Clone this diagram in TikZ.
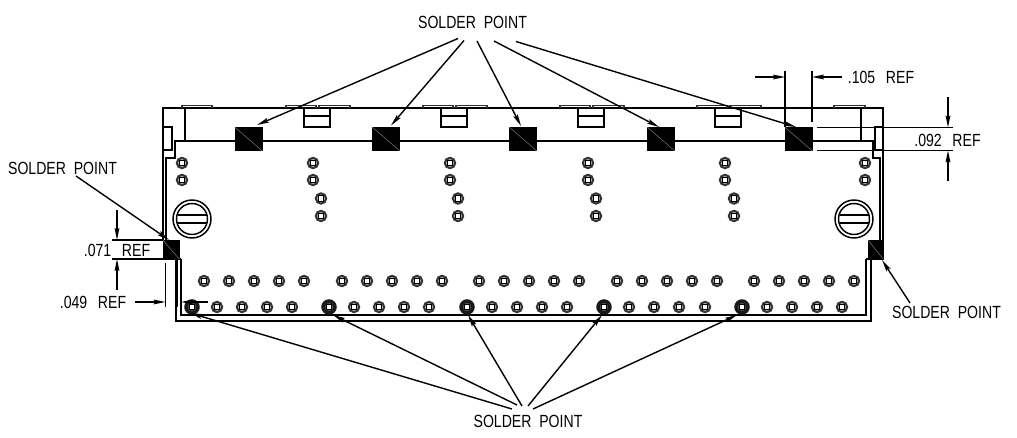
\documentclass[tikz,border=0pt]{standalone}
\usepackage{fontspec}
\setmainfont[FakeStretch=0.8]{Liberation Sans}
\usetikzlibrary{arrows.meta}
\tikzset{
	wall/.style={line width=1.1pt},
	tabline/.style={line width=0.9pt,black!80},
	dimline/.style={line width=0.95pt},
	leader/.style={line width=1.05pt,-{Stealth[length=9pt,width=3.6pt,inset=1.5pt]}},
	padbox/.style={draw=black,fill=black,inner sep=0pt,line width=0.4pt},
	callout/.style={font=\fontsize{13.2}{15}\selectfont,inner sep=0pt},
}
\newcommand{\solderlabel}{SOLDER\ \ POINT}
\newcommand{\viahole}[2]{%
	\draw[line width=1.5pt,black!80,fill=black!30] (#1,#2) circle (5.2);
	\draw[line width=1pt,fill=white] (#1-2.8,#2-2.8) rectangle (#1+2.8,#2+2.8);
}
\newcommand{\bigviahole}[2]{%
	\draw[line width=2.6pt,black!90,fill=black!70] (#1,#2) circle (6);
	\draw[line width=1pt,fill=white] (#1-2.4,#2-2.4) rectangle (#1+2.4,#2+2.4);
}
\newcommand{\slotscrew}[2]{%
	\draw[wall] (#1,#2) circle (19);
	\draw[wall] (#1,#2) circle (15.5);
	\draw[wall] (#1-14.5,#2-4) -- (#1+14.5,#2-4);
	\draw[wall] (#1-14.5,#2+4) -- (#1+14.5,#2+4);
}
\begin{document}
\begin{tikzpicture}[x=0.75pt,y=-0.75pt]
	\useasboundingbox (0,0) rectangle (1017,438);
	
	\draw[wall] (163,240)--(163,108)--(883,108)--(883,240);
	\draw[wall] (166,240)--(166,158)--(175,158)--(175,141)--(873,141)--(873,158)--(880,158)--(880,240);
	\draw[wall] (163,127) rectangle (172,150);
	\draw[wall] (875,127) rectangle (883,150);
	\draw[wall] (185,108)--(185,141);
	\draw[wall] (861,108)--(861,141);
	\draw[tabline] (182,108)--(182,105.5)--(212,105.5)--(212,108);
	\draw[tabline] (834,108)--(834,105.5)--(865,105.5)--(865,108);
	
	\foreach \tabx in {286,423,560,697}{
		\draw[tabline] (\tabx,108)--(\tabx,105.5)--(\tabx+30,105.5)--(\tabx+30,108);
		\draw[tabline] (\tabx+33,108)--(\tabx+33,105.5)--(\tabx+64,105.5)--(\tabx+64,108);
		\draw[wall] (\tabx+18,108)--(\tabx+18,127)--(\tabx+44,127)--(\tabx+44,108);
		\draw[wall] (\tabx+18,116)--(\tabx+44,116);
	}
	
	\draw[wall] (176,259)--(176,321)--(871,321)--(871,259);
	\draw[wall] (181,259)--(181,315)--(866,315)--(866,259);
	\draw[wall] (176,259)--(181,259);
	\draw[wall] (866,259)--(871,259);
	\draw[line width=2pt] (177,259)--(177,307);
	
	\foreach \padname/\padx in {padA/248.5,padB/386,padC/523,padD/661,padE/798.5}{
		\node[padbox,minimum width=20.4pt,minimum height=17.6pt] (\padname) at (\padx,139) {};
		\draw[black!45,line width=0.3pt] (\padname.north west)--(\padname.south east);
	}
	\node[padbox,minimum width=12pt,minimum height=14pt] (padL) at (171,249.5) {};
	\draw[black!45,line width=0.3pt] (padL.north west)--(padL.south east);
	\node[padbox,minimum width=11.2pt,minimum height=14pt] (padR) at (875.5,249.5) {};
	\draw[black!45,line width=0.3pt] (padR.north west)--(padR.south east);
	
	\foreach \viax in {182,313,450,588,725,865}{
		\viahole{\viax}{163}
		\viahole{\viax}{180}
	}
	\foreach \viax in {321,458,596,734}{
		\viahole{\viax}{198.5}
		\viahole{\viax}{216}
	}
	\foreach \viax in {204,229,254,279,304,342,367,392,417,442,479,504,529,554,579,617,642,667,692,717,754,779,804,829,854}{
		\viahole{\viax}{281}
	}
	\foreach \viax in {217,242,267,292,354,379,404,429,492,517,542,567,629,654,679,705,767,792,817,842}{
		\viahole{\viax}{307}
	}
	\foreach \viax in {192,329,467,604,742}{
		\bigviahole{\viax}{307}
	}
	\slotscrew{192}{219}
	\slotscrew{854}{219}
	
	\node[callout] (lblTop) at (472.5,22) {\solderlabel};
	\node[callout] (lblBot) at (528,421) {\solderlabel};
	\node[callout] (lblLeft) at (62.5,168) {\solderlabel};
	\node[callout] (lblRight) at (946.5,312) {\solderlabel};
	\node[callout] (dimA) at (881,77) {.105\hspace{8pt}REF};
	\node[callout] (dimB) at (947.5,140) {.092\hspace{8pt}REF};
	\node[callout] (dimC) at (117,250) {.071\hspace{8pt}REF};
	\node[callout] (dimD) at (93,302) {.049\hspace{8pt}REF};
	
	\coordinate (T1) at (458,38.5);
	\coordinate (T2) at (464,40.5);
	\coordinate (T3) at (477,41);
	\coordinate (T4) at (494,41);
	\coordinate (T5) at (516,41.5);
	\coordinate (P1) at (257,125);
	\coordinate (P2) at (391,125.5);
	\coordinate (P3) at (521,126);
	\coordinate (P4) at (659,127);
	\coordinate (P5) at (796,127);
	\draw[leader] (T1)--(P1);
	\draw[leader] (T2)--(P2);
	\draw[leader] (T3)--(P3);
	\draw[leader] (T4)--(P4);
	\draw[leader] (T5)--(P5);
	
	\coordinate (B1) at (512,409);
	\coordinate (B2) at (517,405);
	\coordinate (B3) at (522,406);
	\coordinate (B4) at (528,406);
	\coordinate (B5) at (533,409);
	\coordinate (Q1) at (190,313);
	\coordinate (Q2) at (333,315);
	\coordinate (Q3) at (468,315);
	\coordinate (Q4) at (602,315);
	\coordinate (Q5) at (737,315);
	\draw[leader] (B1)--(Q1);
	\draw[leader] (B2)--(Q2);
	\draw[leader] (B3)--(Q3);
	\draw[leader] (B4)--(Q4);
	\draw[leader] (B5)--(Q5);
	
	\coordinate (L1) at (76,176);
	\coordinate (L2) at (169,240);
	\draw[leader] (L1)--(L2);
	\coordinate (R1) at (910,303);
	\coordinate (R2) at (882,260);
	\draw[leader] (R1)--(R2);
	
	\draw[dimline] (785,71)--(785,127);
	\draw[dimline] (812,71)--(812,122);
	\coordinate (A1) at (755,77);
	\coordinate (A2) at (785,77);
	\coordinate (A3) at (842,77);
	\coordinate (A4) at (812,77);
	\draw[leader] (A1)--(A2);
	\draw[leader] (A3)--(A4);
	
	\draw[dimline] (817,127.5)--(953,127.5);
	\draw[dimline] (817,141)--(873,141);
	\draw[dimline] (817,150.5)--(953,150.5);
	\coordinate (C1) at (948,97);
	\coordinate (C2) at (948,127.5);
	\coordinate (C3) at (948,181);
	\coordinate (C4) at (948,150.5);
	\draw[leader] (C1)--(C2);
	\draw[leader] (C3)--(C4);
	
	\draw[dimline] (112,240)--(163,240);
	\draw[dimline] (112,259)--(163,259);
	\coordinate (E1) at (117,210);
	\coordinate (E2) at (117,240);
	\coordinate (E3) at (117,290);
	\coordinate (E4) at (117,259);
	\draw[leader] (E1)--(E2);
	\draw[leader] (E3)--(E4);
	
	\draw[dimline] (165.5,263)--(165.5,307);
	\coordinate (F1) at (135,302);
	\coordinate (F2) at (165.5,302);
	\coordinate (F3) at (208,302);
	\coordinate (F4) at (181,302);
	\draw[leader] (F1)--(F2);
	\draw[leader] (F3)--(F4);
	
\end{tikzpicture}
\end{document}
